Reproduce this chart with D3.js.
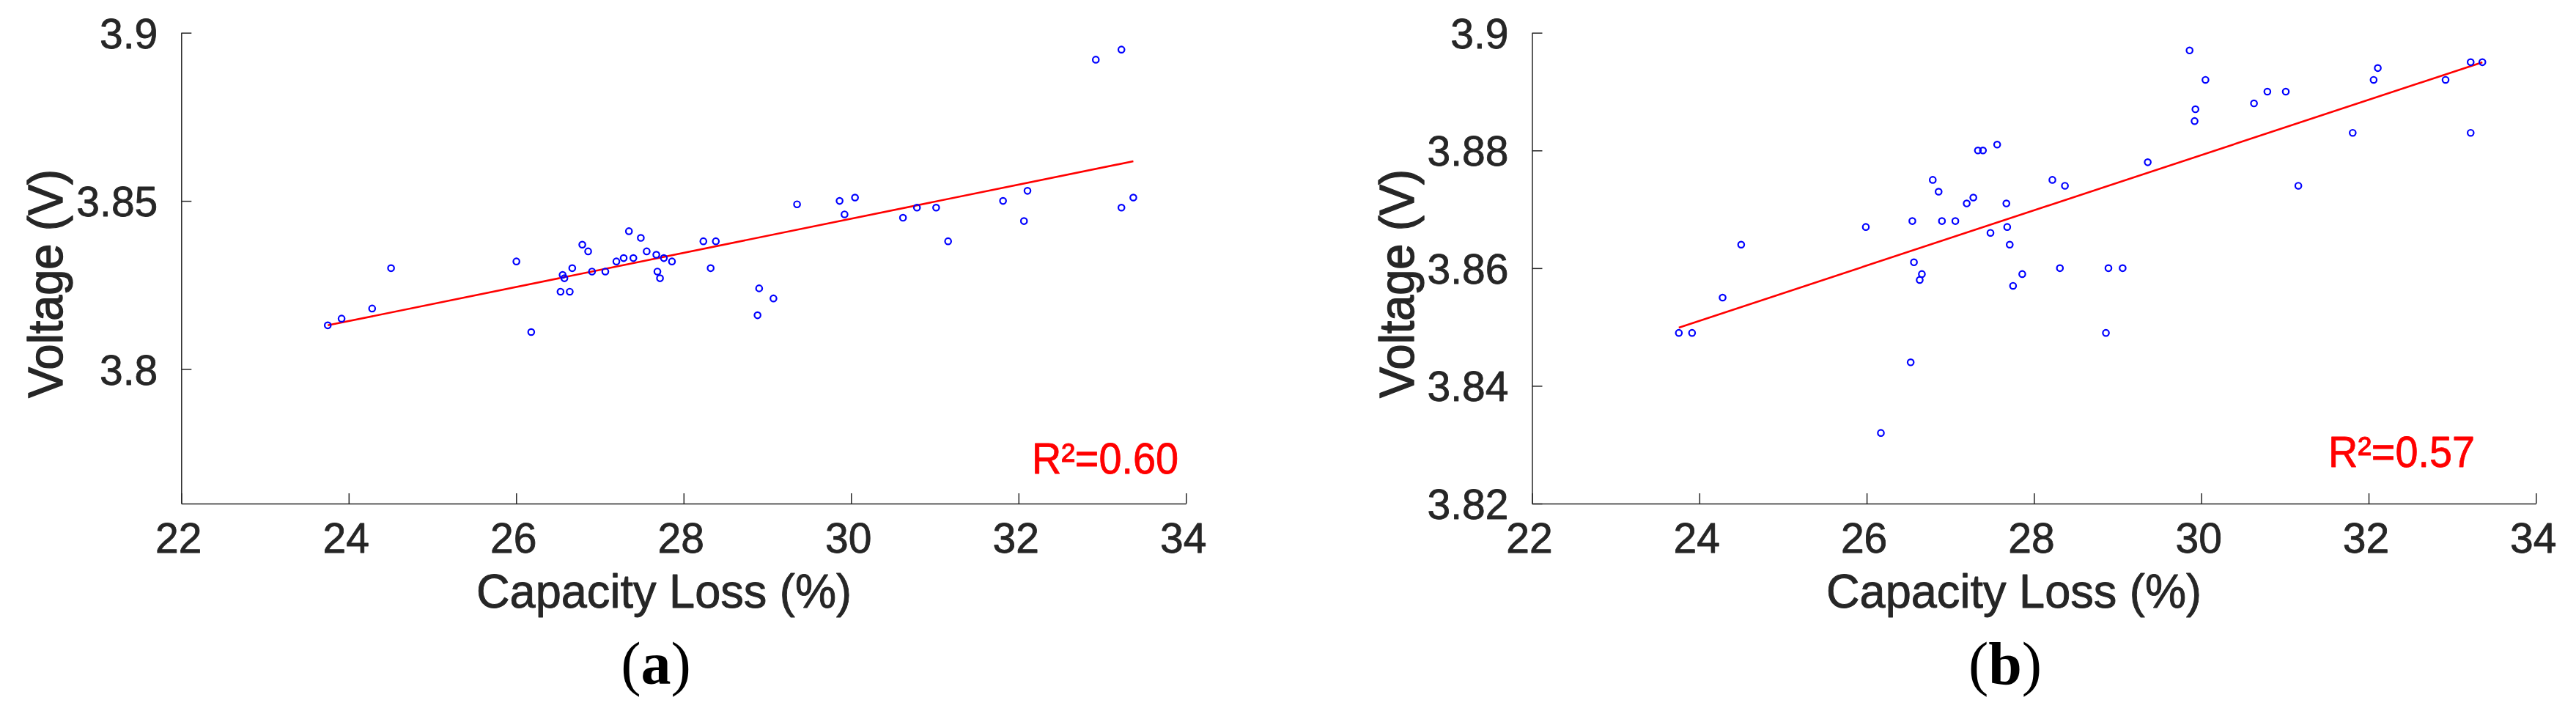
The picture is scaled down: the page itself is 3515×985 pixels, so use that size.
<!DOCTYPE html>
<html>
<head>
<meta charset="utf-8">
<script src="https://cdn.jsdelivr.net/npm/d3@7"></script>
<style>
  body { margin: 0; background: #fff; }
  svg { display: block; }
</style>
</head>
<body>
<div id="chart"></div>
<script>
// panel (a) data
const capacityLossA = [23.75, 23.915, 24.28, 24.506, 26.003, 26.18, 26.53, 26.555, 26.576, 26.64,
  26.67, 26.79, 26.86, 26.906, 27.065, 27.197, 27.284, 27.347, 27.40, 27.489,
  27.559, 27.674, 27.687, 27.718, 27.764, 27.861, 28.236, 28.323, 28.385, 28.883,
  28.902, 29.073, 29.355, 29.863, 29.922, 30.047, 30.62, 30.787, 31.016, 31.159,
  31.815, 32.065, 32.107, 32.923, 33.229, 33.229, 33.371];
const voltageA = [3.813, 3.815, 3.818, 3.830, 3.832, 3.811, 3.823, 3.828, 3.827, 3.823,
  3.830, 3.837, 3.835, 3.829, 3.829, 3.832, 3.833, 3.841, 3.833, 3.839,
  3.835, 3.834, 3.829, 3.827, 3.833, 3.832, 3.838, 3.830, 3.838, 3.816,
  3.824, 3.821, 3.849, 3.850, 3.846, 3.851, 3.845, 3.848, 3.848, 3.838,
  3.850, 3.844, 3.853, 3.892, 3.895, 3.848, 3.851];

// panel (b) data
const capacityLossB = [23.755, 23.913, 24.278, 24.50, 25.99, 26.17, 26.526, 26.546, 26.565, 26.634,
  26.66, 26.79, 26.86, 26.90, 27.06, 27.196, 27.275, 27.33, 27.39, 27.48,
  27.56, 27.67, 27.68, 27.71, 27.75, 27.86, 28.22, 28.31, 28.37, 28.86,
  28.89, 29.06, 29.36, 29.86, 29.92, 29.93, 30.05, 30.63, 30.79, 31.01,
  31.16, 31.81, 32.06, 32.11, 32.92, 33.22, 33.22, 33.36];
const voltageB = [3.849, 3.849, 3.855, 3.864, 3.867, 3.832, 3.844, 3.868, 3.861, 3.858,
  3.859, 3.875, 3.873, 3.868, 3.868, 3.871, 3.872, 3.880, 3.880, 3.866,
  3.881, 3.871, 3.867, 3.864, 3.857, 3.859, 3.875, 3.860, 3.874, 3.849,
  3.860, 3.860, 3.878, 3.897, 3.885, 3.887, 3.892, 3.888, 3.890, 3.890,
  3.874, 3.883, 3.892, 3.894, 3.892, 3.883, 3.895, 3.895];

// axes
const xDomain = [22, 34];
const xTicks = [22, 24, 26, 28, 30, 32, 34];
const yDomainA = [3.76, 3.9];
const yTicksA = [3.8, 3.85, 3.9];
const yDomainB = [3.82, 3.9];
const yTicksB = [3.82, 3.84, 3.86, 3.88, 3.9];

// labels
const xLabel = "Capacity Loss (%)";
const yLabel = "Voltage (V)";
const r2Labels = ["R\u00b2=0.60", "R\u00b2=0.57"];
const panelTags = ["a", "b"];

const W = 3515, H = 985;
const ink = "#262626";
const sans = "'Liberation Sans', Arial, Helvetica, sans-serif";

const svg = d3.select("#chart").append("svg")
  .attr("width", W)
  .attr("height", H);

svg.append("rect").attr("width", W).attr("height", H).attr("fill", "#fff");

// slightly heavier glyphs, like the exported figure
function heavy(sel, color, w) {
  sel.attr("fill", color).attr("stroke", color).attr("stroke-width", w)
    .attr("stroke-linejoin", "round");
}

function drawPanel(cfg) {
  const top = 44.7, bottom = 687;
  const g = svg.append("g");

  // scales
  const x = d3.scaleLinear().domain(xDomain).range([cfg.left, cfg.right]);
  const y = d3.scaleLinear().domain(cfg.yDomain).range([bottom, top]);

  // axes, ticks pointing inward
  const xAxis = d3.axisBottom(x).tickValues(xTicks).tickFormat(d3.format("d"))
    .tickSizeInner(-14).tickSizeOuter(0).tickPadding(27);
  const yAxis = d3.axisLeft(y).tickValues(cfg.yTicks).tickFormat(d => String(d))
    .tickSizeInner(-14).tickSizeOuter(0).tickPadding(32);

  const gx = g.append("g").attr("transform", `translate(0,${bottom})`).call(xAxis);
  const gy = g.append("g").attr("transform", `translate(${cfg.left},0)`).call(yAxis);

  [gx, gy].forEach(a => {
    a.select(".domain").attr("stroke", ink).attr("stroke-width", 1.5);
    a.selectAll(".tick line").attr("stroke", ink).attr("stroke-width", 1.5);
    a.selectAll(".tick text")
      .call(heavy, ink, 0.8)
      .style("font-family", sans)
      .style("font-size", "57px");
  });
  gx.selectAll(".tick text").attr("dx", -4);
  gy.selectAll(".tick text").attr("dy", "0.36em");

  // fit line (least squares)
  const n = cfg.xs.length;
  const mx = d3.mean(cfg.xs), my = d3.mean(cfg.ys);
  let sxy = 0, sxx = 0;
  for (let i = 0; i < n; i++) {
    sxy += (cfg.xs[i] - mx) * (cfg.ys[i] - my);
    sxx += (cfg.xs[i] - mx) ** 2;
  }
  const slope = sxy / sxx;
  const icpt = my - slope * mx;
  const ext = d3.extent(cfg.xs);
  const fit = ext.map(v => ({ cx: v, cy: icpt + slope * v }));

  g.append("path")
    .datum(fit)
    .attr("fill", "none")
    .attr("stroke", "#ff0000")
    .attr("stroke-width", 2.6)
    .attr("d", d3.line().x(d => x(d.cx)).y(d => y(d.cy)));

  // points
  const pts = cfg.xs.map((v, i) => ({ cx: v, cy: cfg.ys[i] }));
  g.selectAll(".dot")
    .data(pts)
    .join("circle")
    .attr("class", "dot")
    .attr("cx", d => x(d.cx))
    .attr("cy", d => y(d.cy))
    .attr("r", 4.2)
    .attr("fill", "none")
    .attr("stroke", "#0000ff")
    .attr("stroke-width", 2.2);

  // axis labels
  g.append("text")
    .attr("x", cfg.xLabelX)
    .attr("y", 829)
    .attr("text-anchor", "middle")
    .call(heavy, ink, 0.9)
    .style("font-family", sans)
    .style("font-size", "64px")
    .attr("textLength", 512)
    .attr("lengthAdjust", "spacingAndGlyphs")
    .text(xLabel);

  g.append("text")
    .attr("transform", `translate(${cfg.left - 162},387) rotate(-90)`)
    .attr("text-anchor", "middle")
    .call(heavy, ink, 1.4)
    .style("font-family", sans)
    .style("font-size", "66px")
    .attr("textLength", 312)
    .attr("lengthAdjust", "spacingAndGlyphs")
    .text(yLabel);

  // R squared
  g.append("text")
    .attr("x", cfg.r2X)
    .attr("y", cfg.r2Y)
    .attr("text-anchor", "end")
    .call(heavy, "#ff0000", 0.8)
    .style("font-family", sans)
    .style("font-size", "59px")
    .attr("textLength", 200)
    .attr("lengthAdjust", "spacingAndGlyphs")
    .text(cfg.r2);

  // panel tag (a) / (b)
  const tag = g.append("text")
    .attr("x", cfg.tagX)
    .attr("y", 933)
    .attr("text-anchor", "middle")
    .attr("fill", "#000")
    .style("font-family", "'Liberation Serif', 'Times New Roman', serif")
    .style("font-size", "82px");
  tag.append("tspan").text("(");
  tag.append("tspan").style("font-weight", "bold").text(cfg.tag);
  tag.append("tspan").text(")");
}

drawPanel({
  xs: capacityLossA, ys: voltageA, yDomain: yDomainA, yTicks: yTicksA,
  left: 247.3, right: 1618.3, xLabelX: 906, r2X: 1608, r2Y: 646,
  r2: r2Labels[0], tag: panelTags[0], tagX: 895
});

drawPanel({
  xs: capacityLossB, ys: voltageB, yDomain: yDomainB, yTicks: yTicksB,
  left: 2090.5, right: 3460.3, xLabelX: 2748, r2X: 3377, r2Y: 637,
  r2: r2Labels[1], tag: panelTags[1], tagX: 2736
});
</script>
</body>
</html>
